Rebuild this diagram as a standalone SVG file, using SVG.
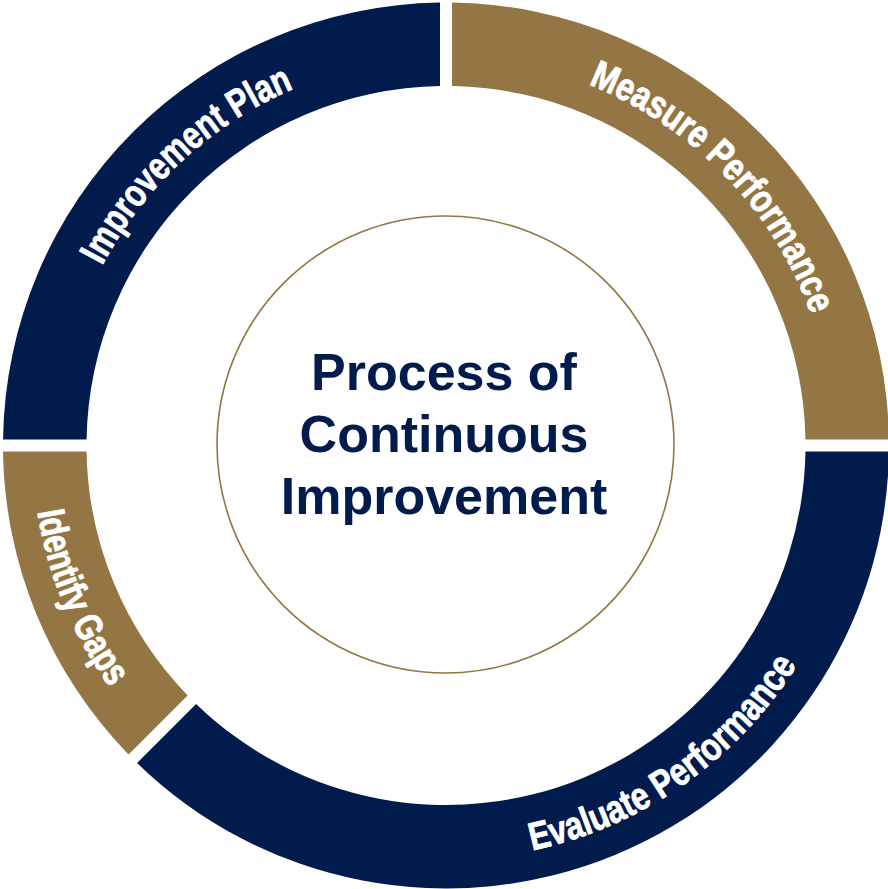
<svg xmlns="http://www.w3.org/2000/svg" xmlns:xlink="http://www.w3.org/1999/xlink" width="888" height="889" viewBox="0 0 888 889">
  <style>
    .navy { fill: #011b4d; }
    .gold { fill: #947644; }
    .ring-label { font-family: "Liberation Sans Narrow", "Liberation Sans", Arial, sans-serif; font-weight: bold; font-size: 39px; fill: #ffffff; stroke: #ffffff; stroke-width: 0.9px; stroke-linejoin: round; }
    .center-label { font-family: "Liberation Sans", Arial, sans-serif; font-weight: bold; font-size: 52px; fill: #011b4d; text-anchor: middle; }
  </style>
  <defs>
    <path id="p-plan" d="M 58 445.5 A 388 388 0 0 1 446 57.5"/>
    <path id="p-measure" d="M 446 57.5 A 388 388 0 0 1 834 445.5"/>
    <path id="p-evaluate" d="M 374.11 853.21 A 414 414 0 0 0 853.71 517.39"/>
    <path id="p-gaps" d="M 32 445.5 A 414 414 0 0 0 153.26 738.24"/>
  </defs>
  <rect width="888" height="889" fill="#ffffff"/>

  <g id="improvement-plan">
    <path class="navy" d="M 3.04 439.5 A 443 443 0 0 1 440 2.54 L 440 86.05 A 359.5 359.5 0 0 0 86.55 439.5 Z"/>
    <text class="ring-label"><textPath href="#p-plan" startOffset="52.5%" text-anchor="middle" textLength="266" lengthAdjust="spacingAndGlyphs">Improvement Plan</textPath></text>
  </g>

  <g id="measure-performance">
    <path class="gold" d="M 452 2.54 A 443 443 0 0 1 888.96 439.5 L 805.45 439.5 A 359.5 359.5 0 0 0 452 86.05 Z"/>
    <text class="ring-label"><textPath href="#p-measure" startOffset="51%" text-anchor="middle" textLength="330" lengthAdjust="spacingAndGlyphs">Measure Performance</textPath></text>
  </g>

  <g id="evaluate-performance">
    <path class="navy" d="M 888.96 451.5 A 443 443 0 0 1 137.02 762.96 L 196.07 703.91 A 359.5 359.5 0 0 0 805.45 451.5 Z"/>
    <text class="ring-label"><textPath href="#p-evaluate" startOffset="50%" text-anchor="middle" textLength="332" lengthAdjust="spacingAndGlyphs">Evaluate Performance</textPath></text>
  </g>

  <g id="identify-gaps">
    <path class="gold" d="M 128.54 754.48 A 443 443 0 0 1 3.04 451.5 L 86.55 451.5 A 359.5 359.5 0 0 0 187.59 695.43 Z"/>
    <text class="ring-label"><textPath href="#p-gaps" startOffset="50%" text-anchor="middle" textLength="192" lengthAdjust="spacingAndGlyphs">Identify Gaps</textPath></text>
  </g>

  <g id="center">
    <circle cx="445.5" cy="444.5" r="228.5" fill="#ffffff" stroke="#947644" stroke-width="1.6"/>
    <text class="center-label" x="444" y="390">Process of</text>
    <text class="center-label" x="444" y="452">Continuous</text>
    <text class="center-label" x="444" y="514">Improvement</text>
  </g>

  <g id="connectors"/>
</svg>
